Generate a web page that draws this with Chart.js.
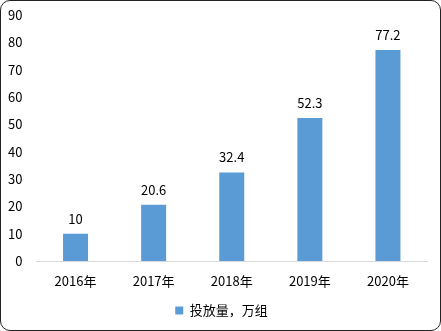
<!DOCTYPE html>
<html><head><meta charset="utf-8">
<script src="https://cdn.jsdelivr.net/npm/chart.js@4/dist/chart.umd.min.js"></script>
<style>
html,body{margin:0;padding:0;background:#fff;width:441px;height:331px;overflow:hidden;}
#frame{position:absolute;left:0;top:0;width:439px;height:329px;border:1px solid #222;border-radius:10px;box-sizing:content-box;}
#wrap{position:absolute;left:0;top:0;width:441px;height:331px;}
</style></head>
<body>
<div id="wrap"><canvas id="c" width="441" height="331"></canvas></div>
<div id="frame"></div>
<script>
const categories = ['2016年','2017年','2018年','2019年','2020年'];
const values = [10, 20.6, 32.4, 52.3, 77.2];
const seriesName = '投放量，万组';
const yTicks = [0,10,20,30,40,50,60,70,80,90];

const FONT = '"Noto Sans CJK SC", "Microsoft YaHei", sans-serif';

const valueLabels = {
  id:'valueLabels',
  afterDatasetsDraw(chart){
    const ctx = chart.ctx;
    const meta = chart.getDatasetMeta(0);
    ctx.save();
    ctx.fillStyle = '#000';
    ctx.font = '13px ' + FONT;
    ctx.textAlign = 'center';
    ctx.textBaseline = 'middle';
    meta.data.forEach((bar,i)=>{
      ctx.fillText(String(values[i]), bar.x, bar.y - 15);
    });
    ctx.restore();
  }
};

const legendShift = {
  id:'legendShift',
  afterLayout(chart){
    if (chart.legend) { chart.legend.left += 8; chart.legend.right += 8; }
  }
};

new Chart(document.getElementById('c'), {
  type:'bar',
  data:{
    labels:categories,
    datasets:[{label:seriesName, data:values, backgroundColor:'#5B9BD5', borderWidth:0,
      barPercentage:0.32, categoryPercentage:1}]
  },
  options:{
    responsive:false, animation:false,
    layout:{padding:{left:0,right:14,top:15,bottom:4}},
    scales:{
      x:{
        grid:{display:false, drawTicks:false},
        border:{display:true,color:'#d9d9d9',width:1},
        ticks:{color:'#000',font:{family:FONT,size:13},padding:12},
        afterFit(s){ s.height = 37; s.paddingLeft = 0; s.paddingRight = 0; }
      },
      y:{
        min:0,max:90,
        afterBuildTicks(s){ s.ticks = yTicks.map(v=>({value:v})); },
        grid:{display:false, drawTicks:false},
        border:{display:false},
        ticks:{color:'#000',font:{family:FONT,size:13},padding:14},
        afterFit(s){ s.width = 36.5; s.paddingTop = 0; s.paddingBottom = 0; }
      }
    },
    plugins:{
      legend:{position:'bottom',
        labels:{color:'#000',boxWidth:8,boxHeight:8,padding:6,font:{family:FONT,size:13}}},
      tooltip:{enabled:false}
    }
  },
  plugins:[valueLabels, legendShift]
});
</script>
</body></html>
